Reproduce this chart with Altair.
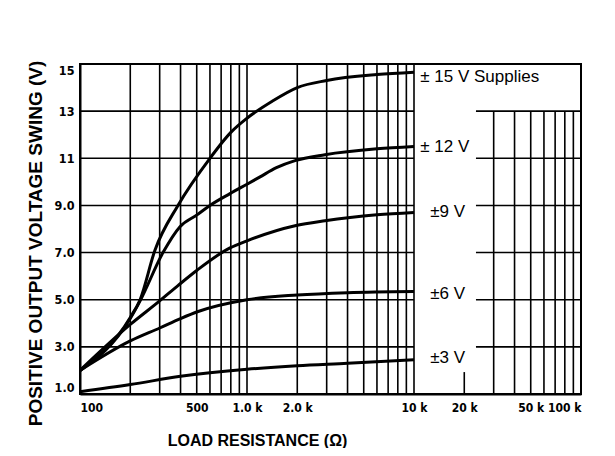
import altair as alt
import pandas as pd

# ---------------- data ----------------
series_names = ["±15 V", "±12 V", "±9 V", "±6 V", "±3 V"]

r15 = [100, 200, 229, 281, 386, 600, 800, 1000, 1400, 2000, 3000, 6000, 10000]
v15 = [2.0, 4.25, 5.0, 7.1, 9.0, 11.0, 12.1, 12.7, 13.4, 14.0, 14.3, 14.55, 14.65]

r12 = [100, 200, 229, 314, 397, 502, 600, 791, 1000, 1190, 1500, 1940, 2930, 6000, 10000]
v12 = [2.0, 4.2, 4.95, 7.0, 8.1, 8.6, 9.0, 9.5, 9.9, 10.2, 10.6, 10.9, 11.15, 11.4, 11.5]

r9 = [100, 200, 300, 386, 502, 791, 1000, 1940, 2930, 6000, 10000]
v9 = [2.0, 3.95, 4.95, 5.6, 6.25, 7.2, 7.5, 8.14, 8.35, 8.6, 8.7]

r6 = [100, 200, 300, 400, 510, 1000, 2000, 4000, 10000]
v6 = [2.0, 3.25, 3.8, 4.2, 4.5, 5.0, 5.2, 5.3, 5.35]

r3 = [100, 200, 400, 1000, 2000, 4000, 10000]
v3 = [1.1, 1.4, 1.75, 2.05, 2.2, 2.3, 2.45]

# curve labels (text, anchor resistance, anchor voltage)
label_text = ["± 15 V Supplies", "± 12 V", "±9 V", "±6 V", "±3 V"]
label_r = [10900, 10900, 12500, 12500, 12500]
label_v = [14.45, 11.48, 8.72, 5.24, 2.53]

# axis ticks
x_ticks = [100, 500, 1000, 2000, 10000, 20000, 50000, 100000]
x_tick_labels = ["100", "500", "1.0 k", "2.0 k", "10 k", "20 k", "50 k", "100 k"]
y_ticks = [1, 3, 5, 7, 9, 11, 13, 15]
y_tick_labels = ["1.0", "3.0", "5.0", "7.0", "9.0", "11", "13", "15"]

# grid layout of the printed graph paper
grid_left_x = [200, 300, 400, 500, 600, 700, 800, 900,
               1000, 2000, 3000, 4000, 5000, 6000, 7000, 8000, 9000, 10000]
grid_right_x = [30000, 40000, 50000, 60000, 70000, 80000, 90000]
grid_tick_x = [20000]
grid_h_left = [3, 5, 7, 9, 11, 13]
grid_h_right = [3, 5, 7, 9, 11, 13]
left_span = [100, 10000]
right_span = [23500, 100000]
right_top = 13
tick_top = 1.93
y_min, y_max = 1, 15
x_min, x_max = 100, 100000

# ---------------- tables ----------------
rows = []
for name, rr, vv in zip(series_names, [r15, r12, r9, r6, r3], [v15, v12, v9, v6, v3]):
    for a, b in zip(rr, vv):
        rows.append({"series": name, "r": a, "v": b})
curves = pd.DataFrame(rows)

g = []
for x in grid_left_x:
    g.append({"x": x, "x2": x, "y": y_min, "y2": y_max})
for x in grid_right_x:
    g.append({"x": x, "x2": x, "y": y_min, "y2": right_top})
for x in grid_tick_x:
    g.append({"x": x, "x2": x, "y": y_min, "y2": tick_top})
for y in grid_h_left:
    g.append({"x": left_span[0], "x2": left_span[1], "y": y, "y2": y})
for y in grid_h_right:
    g.append({"x": right_span[0], "x2": right_span[1], "y": y, "y2": y})
grid = pd.DataFrame(g)

labels = pd.DataFrame({"t": label_text, "r": label_r, "v": label_v})


def label_expr(vals, txts):
    parts = [f"round(datum.value) == {v} ? '{t}'" for v, t in zip(vals, txts)]
    return " : ".join(parts) + " : ''"


xscale = alt.Scale(type="log", domain=[x_min, x_max], nice=False)
yscale = alt.Scale(domain=[y_min, y_max], nice=False, zero=False)

tick_font = "DejaVu Sans Condensed, Liberation Sans, sans-serif"
title_font = "Liberation Sans, Arial, Helvetica, sans-serif"

x_axis = alt.Axis(
    values=x_ticks,
    labelExpr=label_expr(x_ticks, x_tick_labels),
    title="LOAD RESISTANCE (Ω)",
    grid=False, ticks=False,
    domain=True, domainColor="black", domainWidth=2,
    labelFont=tick_font, labelFontSize=12, labelFontWeight="bold",
    labelColor="black", labelPadding=8, labelFlush=True, labelOverlap=False,
    titleFont=title_font, titleFontSize=16, titleFontWeight="bold",
    titleColor="black", titleX=177, titleY=46, titleBaseline="middle",
    titleAlign="center",
)
y_axis = alt.Axis(
    values=y_ticks,
    labelExpr=label_expr(y_ticks, y_tick_labels),
    title="POSITIVE OUTPUT VOLTAGE SWING (V)",
    grid=False, ticks=False,
    domain=True, domainColor="black", domainWidth=2,
    labelFont=tick_font, labelFontSize=12.5, labelFontWeight="bold",
    labelColor="black", labelPadding=6, labelFlush=True, labelOverlap=False,
    titleFont=title_font, titleFontSize=19, titleFontWeight="bold",
    titleColor="black", titleX=-45, titleY=179, titleAngle=270,
    titleAlign="center", titleBaseline="middle",
)

grid_layer = alt.Chart(grid).mark_rule(color="black", strokeWidth=1.6).encode(
    x=alt.X("x:Q", scale=xscale, axis=x_axis),
    x2="x2:Q",
    y=alt.Y("y:Q", scale=yscale, axis=y_axis),
    y2="y2:Q",
)

curve_layer = alt.Chart(curves).mark_line(
    color="black", strokeWidth=3, interpolate="monotone"
).encode(
    x=alt.X("r:Q", scale=xscale),
    y=alt.Y("v:Q", scale=yscale),
    detail="series:N",
)

text_layer = alt.Chart(labels).mark_text(
    align="left", baseline="middle", font=title_font, fontSize=17,
    color="black",
).encode(
    x=alt.X("r:Q", scale=xscale),
    y=alt.Y("v:Q", scale=yscale),
    text="t:N",
)

chart = alt.layer(grid_layer, curve_layer, text_layer).properties(
    width=501, height=330,
    autosize=alt.AutoSizeParams(type="none"),
    padding={"left": 72, "top": 56, "right": 26, "bottom": 54},
    background="white",
).configure_view(stroke="black", strokeWidth=2)

chart.save("out.html", embed_options={"renderer": "svg", "actions": False})
